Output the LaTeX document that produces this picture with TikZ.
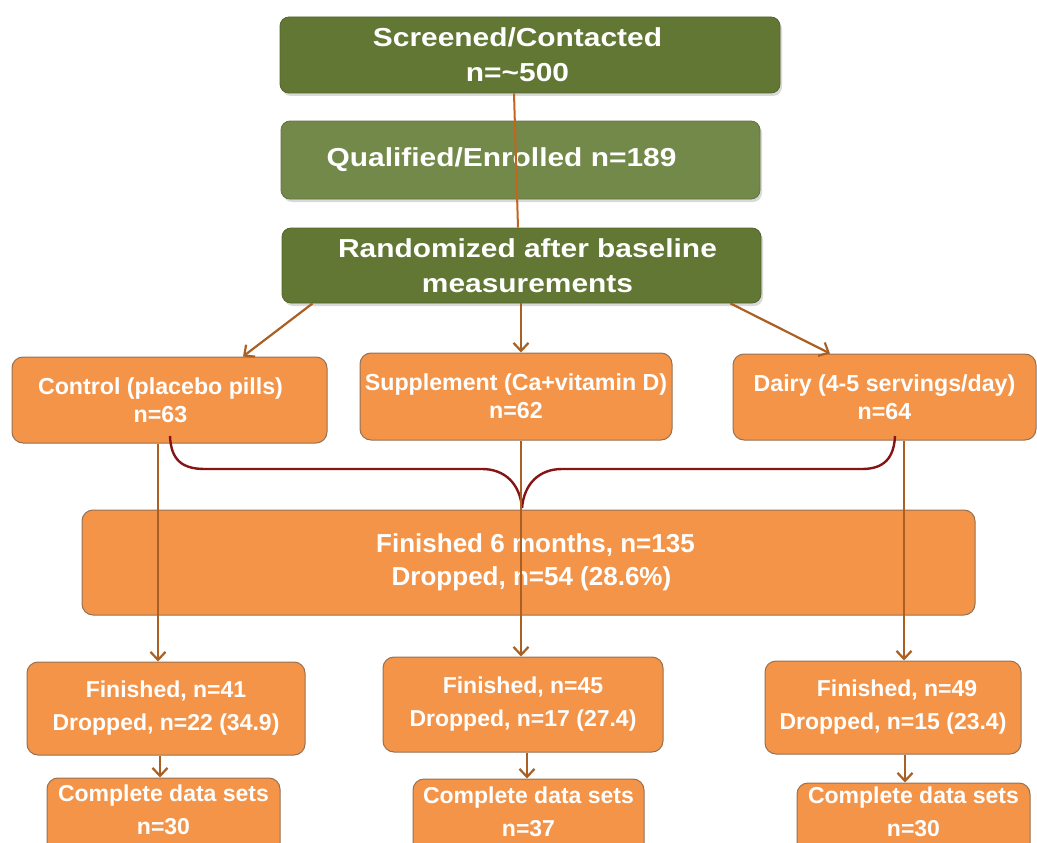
\documentclass[tikz,border=0pt]{standalone}
\usepackage{fontspec}
\setmainfont{Liberation Sans}
\newfontfamily\widefont[FakeStretch=1.15]{Liberation Sans}
\usetikzlibrary{arrows.meta,shadows}
\definecolor{dkgreen}{RGB}{98,119,52}
\definecolor{ltgreen}{RGB}{115,137,73}
\definecolor{orng}{RGB}{244,148,72}
\definecolor{obrd}{RGB}{150,112,82}
\definecolor{arrc}{RGB}{170,95,35}
\definecolor{topc}{RGB}{196,100,30}
\definecolor{bracec}{RGB}{135,20,20}
\begin{document}
\begin{tikzpicture}[x=1pt,y=-1pt,
  gbox/.style={rounded corners=9pt, fill=dkgreen, draw=dkgreen!85!black, line width=0.8pt,
    text=white, font=\widefont\bfseries\fontsize{26}{35}\selectfont, align=center, inner sep=0pt,
    drop shadow={shadow xshift=2pt,shadow yshift=-3pt,opacity=0.3}},
  obox/.style={rounded corners=11pt, fill=orng, draw=obrd, line width=1pt, text=white,
    align=center, inner sep=0pt},
  otext/.style={text=white, align=center, inner sep=0pt},
  f23/.style={font=\bfseries\fontsize{23.2}{28}\selectfont},
  f23w/.style={font=\bfseries\fontsize{23}{33}\selectfont},
  f26/.style={font=\bfseries\fontsize{26}{33}\selectfont},
  arrow/.style={draw=arrc, line width=2.2pt, -{Straight Barb[length=8pt,width=15pt,line width=2.2pt]}},
  topline/.style={draw=topc, line width=2pt},
  bracestyle/.style={draw=bracec, line width=2.4pt}
]
\useasboundingbox (0,0) rectangle (1037,843);

% top green boxes
\node[gbox, minimum width=500pt, minimum height=76pt] (scr) at (530,55) {Screened/Contacted\hspace*{25pt}\\n=\textasciitilde500\hspace*{25pt}};
\node[gbox, fill=ltgreen, draw=ltgreen!85!black, minimum width=479pt, minimum height=78pt] (qual) at (520.5,160) {Qualified/Enrolled n=189\hspace*{38pt}};
\node[gbox, minimum width=479pt, minimum height=75pt] (rand) at (521.5,265.5) {\hspace*{12pt}Randomized after baseline\\\hspace*{12pt}measurements};
\draw[topline] ([xshift=-16pt]scr.south) -- ([xshift=-3.5pt]rand.north);

% group boxes
\node[obox, f23, minimum width=315pt, minimum height=86pt] (ctrl) at (169.5,400) {Control (placebo pills)\hspace*{18pt}\\n=63\hspace*{18pt}};
\node[obox, f23, minimum width=312pt, minimum height=87pt] (supp) at (516,396.5) {Supplement (Ca+vitamin D)\\n=62};
\node[obox, f23, minimum width=303pt, minimum height=86pt] (dairy) at (884.5,397) {Dairy (4-5 servings/day)\\n=64};

\draw[arrow] ([xshift=31pt]rand.south west) -- ([xshift=73.5pt]ctrl.north);
\draw[arrow] ([xshift=-0.5pt]rand.south) -- ([xshift=-0.5pt]rand.south |- supp.north);
\draw[arrow] ([xshift=-31pt]rand.south east) -- ([xshift=-54.5pt]dairy.north);

% big box
\node[obox, f26, minimum width=893pt, minimum height=105pt] (big) at (528.5,562.5) {\hspace*{14pt}Finished 6 months, n=135\\\hspace*{6pt}Dropped, n=54 (28.6\%)};

% brace
\coordinate (b1) at (170,436);
\coordinate (bm) at (522,508);
\coordinate (b2) at (895,436);
\draw[bracestyle] (b1) .. controls (171,460) and (182,469) .. (205,469) -- (482,469)
  .. controls (505,469) and (520,484) .. (bm);
\draw[bracestyle] (bm) .. controls (524,484) and (539,469) .. (562,469) -- (862,469)
  .. controls (884,469) and (894,458) .. (b2);

% finished boxes
\node[obox, f23w, minimum width=278pt, minimum height=93pt] (fl) at (166,708.5) {Finished, n=41\\Dropped, n=22 (34.9)};
\node[obox, f23w, minimum width=280pt, minimum height=95pt] (fm) at (523,704.5) {Finished, n=45\\Dropped, n=17 (27.4)};
\node[obox, f23w, minimum width=256pt, minimum height=93pt] (fr) at (893,707.5) {\hspace*{8pt}Finished, n=49\\Dropped, n=15 (23.4)};

% vertical arrows through big box
\draw[arrow] ([xshift=-11.5pt]ctrl.south) -- ([xshift=-11.5pt]ctrl.south |- fl.north);
\draw[arrow] ([xshift=5pt]supp.south) -- ([xshift=5pt]supp.south |- fm.north);
\draw[arrow] ([xshift=19.5pt]dairy.south) -- ([xshift=19.5pt]dairy.south |- fr.north);

% complete boxes
\node[obox, minimum width=233pt, minimum height=78pt] (cl) at (163.5,817) {};
\node[obox, minimum width=231pt, minimum height=78pt] (cm) at (528.5,818) {};
\node[obox, minimum width=233pt, minimum height=78pt] (cr) at (913.5,822) {};
\node[otext, f23w] (clt) at (163.5,810) {Complete data sets\\n=30};
\node[otext, f23w] (cmt) at (528.5,812) {Complete data sets\\n=37};
\node[otext, f23w] (crt) at (913.5,812) {Complete data sets\\n=30};

\draw[arrow] ([xshift=-6pt]fl.south) -- ([xshift=-6pt]fl.south |- cl.north);
\draw[arrow] ([xshift=4pt]fm.south) -- ([xshift=4pt]fm.south |- cm.north);
\draw[arrow] ([xshift=12pt]fr.south) -- ([xshift=12pt]fr.south |- cr.north);
\end{tikzpicture}
\end{document}
